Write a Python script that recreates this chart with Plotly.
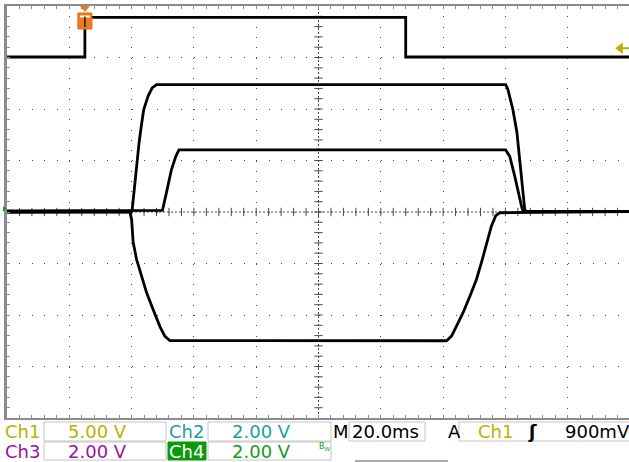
import plotly.graph_objects as go

TIME_PER_DIV_MS = 20.0
CH1_V_PER_DIV = 5.0
CH1_OFFSET_DIV = 3.0
CH234_V_PER_DIV = 2.0
TRIGGER_TIME_MS = 0.0
TRIGGER_LEVEL_V = 0.9

ch1_t = [-25, 0, 0, 103, 103, 175]
ch1_v = [0.05, 0.05, 3.9, 3.9, 0.05, 0.05]

ch2_t = [-25, 14.9, 15.2, 15.7, 16.4, 16.9, 17.4, 18.1, 18.9, 20.3, 21.6, 23.0,
         135.1, 135.8, 137.4, 138.7, 139.6, 140.6, 141.2, 141.9, 175]
ch2_v = [0.0, 0.0, 0.10, 0.75, 1.39, 2.04, 2.69, 3.33, 3.98, 4.50, 4.82, 4.95,
         4.95, 4.76, 3.98, 3.09, 2.04, 0.99, 0.10, 0.02, 0.02]

ch3_t = [-25, 24.9, 26.2, 27.8, 29.2, 30.2, 135.1, 136.4, 138.0, 139.4, 140.2, 140.7, 175]
ch3_v = [0.04, 0.06, 0.76, 1.65, 2.16, 2.41, 2.41, 2.16, 1.39, 0.60, 0.21, 0.02, 0.02]

ch4_t = [-25, 14.4, 15.0, 15.5, 16.6, 18.2, 19.8, 21.9, 24.1, 25.7, 27.3,
         116.1, 117.7, 119.3, 121.4, 123.6, 125.7, 127.3, 128.9, 130.5, 131.9, 133.2, 175]
ch4_v = [0.0, 0.02, -0.29, -1.18, -1.84, -2.50, -3.13, -3.79, -4.45, -4.83, -4.99,
         -5.0, -4.82, -4.43, -3.91, -3.27, -2.62, -1.97, -1.20, -0.55, -0.14, -0.03, 0.02]

row1_labels = ["Ch1", "5.00 V", "Ch2", "2.00 V", "M", "20.0ms", "A", "Ch1", "ʃ", "900mV"]
row2_labels = ["Ch3", "2.00 V", "Ch4", "2.00 V"]

# ---------------- layout geometry ----------------
W, H = 629, 462
L, T, B = 7, 6, 44
PW = W - L          # plot width in px
PH = H - T - B      # plot height in px
PX_PER_DIV = 62.3
X0 = -25.0
X1 = X0 + PW / PX_PER_DIV * TIME_PER_DIV_MS
XC = X0 + 5 * TIME_PER_DIV_MS

def px(x):
    return (x - L) / PW

def py(y):
    return (H - B - y) / PH

ch1_range = [(-4 - CH1_OFFSET_DIV) * CH1_V_PER_DIV, (4 - CH1_OFFSET_DIV) * CH1_V_PER_DIV]
ch_range = [-4 * CH234_V_PER_DIV, 4 * CH234_V_PER_DIV]

GRID = "#4a4a4a"
BORDER = "#8c8c8c"

fig = go.Figure()

# graticule: minor tick crosses on the centre lines
minor_x = [X0 + k * TIME_PER_DIV_MS / 5 for k in range(1, 50)]
minor_y = [ch_range[0] + k * CH234_V_PER_DIV / 5 for k in range(1, 40)]
fig.add_trace(go.Scatter(x=minor_x, y=[0] * len(minor_x), mode="markers", hoverinfo="skip",
                         marker=dict(symbol="line-ns", size=6, line=dict(color=GRID, width=1))))
fig.add_trace(go.Scatter(x=[XC] * len(minor_y), y=minor_y, mode="markers", hoverinfo="skip",
                         marker=dict(symbol="line-ew", size=6, line=dict(color=GRID, width=1))))

line = dict(color="black", width=2.8)
fig.add_trace(go.Scatter(x=ch1_t, y=ch1_v, mode="lines", line=line, yaxis="y2"))
fig.add_trace(go.Scatter(x=ch2_t, y=ch2_v, mode="lines", line=line))
fig.add_trace(go.Scatter(x=ch3_t, y=ch3_v, mode="lines", line=line))
fig.add_trace(go.Scatter(x=ch4_t, y=ch4_v, mode="lines", line=line))

# trigger level arrow (right edge)
fig.add_trace(go.Scatter(x=[X1 - 2.8], y=[TRIGGER_LEVEL_V], mode="markers", yaxis="y2",
                         marker=dict(symbol="triangle-left", size=10, color="#b4b400"),
                         cliponaxis=False))

fig.update_layout(
    width=W, height=H, autosize=False,
    margin=dict(l=L, r=0, t=T, b=B, pad=0, autoexpand=False),
    paper_bgcolor="white", plot_bgcolor="white",
    showlegend=False,
    xaxis=dict(range=[X0, X1], tickmode="linear", tick0=X0, dtick=TIME_PER_DIV_MS,
               showticklabels=False, zeroline=False, automargin=False,
               showgrid=True, gridcolor=GRID, gridwidth=1, griddash="1px,9.3px",
               showline=True, linecolor=BORDER, linewidth=2, mirror="ticks",
               ticks="inside", ticklen=3, tickcolor=BORDER,
               minor=dict(dtick=TIME_PER_DIV_MS / 5, tick0=X0, ticks="inside", ticklen=3,
                          tickcolor=BORDER, showgrid=False)),
    yaxis=dict(range=ch_range, tickmode="linear", tick0=ch_range[0], dtick=CH234_V_PER_DIV,
               showticklabels=False, zeroline=False, automargin=False,
               showgrid=True, gridcolor=GRID, gridwidth=1, griddash="1px,11.46px",
               showline=True, linecolor=BORDER, linewidth=3,
               ticks="inside", ticklen=3, tickcolor=BORDER,
               minor=dict(dtick=CH234_V_PER_DIV / 5, tick0=ch_range[0], ticks="inside", ticklen=3,
                          tickcolor=BORDER, showgrid=False)),
    yaxis2=dict(range=ch1_range, overlaying="y", visible=False, automargin=False),
)

shapes = []
# center cross lines (dotted)
shapes.append(dict(type="line", xref="x", yref="paper", x0=XC, x1=XC, y0=0, y1=1,
                   line=dict(color=GRID, width=1, dash="2px,2px"), layer="below"))
shapes.append(dict(type="line", xref="paper", yref="y", x0=0, x1=1, y0=0, y1=0,
                   line=dict(color=GRID, width=1, dash="2px,2px"), layer="below"))

# readout boxes
def box(x0, x1, y0, y1, fill="white", color="#c4c4c4"):
    shapes.append(dict(type="rect", xref="paper", yref="paper", x0=px(x0), x1=px(x1), y0=py(y1), y1=py(y0),
                       line=dict(color=color, width=1), fillcolor=fill, layer="above"))

box(44, 166, 422, 441)
box(208, 331, 422, 441)
box(349, 425, 422, 441)
box(459, 640, 422, 441)
box(44, 166, 442, 460)
box(208, 331, 442, 460)
box(168, 206, 442, 460, fill="#0b980b", color="#0b980b")
shapes.append(dict(type="line", xref="paper", yref="paper", x0=px(355), x1=px(448), y0=py(461), y1=py(461),
                   line=dict(color="#555555", width=1)))

# trigger position marker (orange) at top
tx = L + (TRIGGER_TIME_MS - X0) / TIME_PER_DIV_MS * PX_PER_DIV
shapes.append(dict(type="path", xref="paper", yref="paper",
                   path=f"M{px(tx-5)},{py(6)} L{px(tx+5)},{py(6)} L{px(tx)},{py(12)} Z",
                   fillcolor="#f07a1a", line=dict(width=0), layer="above"))
shapes.append(dict(type="rect", xref="paper", yref="paper", x0=px(tx - 7), x1=px(tx + 7), y0=py(29), y1=py(13),
                   fillcolor="#f07a1a", line=dict(color="#e86a10", width=1), layer="above"))
shapes.append(dict(type="line", xref="paper", yref="paper", x0=px(tx - 5), x1=px(tx + 5), y0=py(16.5), y1=py(16.5),
                   line=dict(color="white", width=2), layer="above"))
shapes.append(dict(type="line", xref="paper", yref="paper", x0=px(tx), x1=px(tx), y0=py(16.5), y1=py(27),
                   line=dict(color="#202020", width=1.5), layer="above"))
# trigger level tail line
shapes.append(dict(type="line", xref="paper", yref="y2", x0=px(622), x1=px(630), y0=TRIGGER_LEVEL_V,
                   y1=TRIGGER_LEVEL_V, line=dict(color="#b4b400", width=2), layer="above"))
# ground marker of ch4 at left edge
shapes.append(dict(type="path", xref="paper", yref="paper",
                   path=f"M{px(3)},{py(206)} L{px(7)},{py(209)} L{px(3)},{py(212)} Z",
                   fillcolor="#2a9a2a", line=dict(width=0), layer="above"))
fig.update_layout(shapes=shapes)

FONT = "DejaVu Sans"
YEL, TEAL, MAG, GRN = "#b4b400", "#1e9e9e", "#a010a0", "#1a9a1a"
row1_x = [3, 66, 167, 230, 331, 350, 446, 476, 526, 563]
row1_c = [YEL, YEL, TEAL, TEAL, "black", "black", "black", YEL, "black", "black"]
row2_x = [3, 66, 167, 230]
row2_c = [MAG, MAG, "white", GRN]
HS = "\u200a"

ann = []
for txt, x, c in zip(row1_labels, row1_x, row1_c):
    bold = txt == "ʃ"
    ann.append(dict(text=txt, x=px(x), y=py(431.5), xref="paper", yref="paper", xanchor="left", yanchor="middle",
                    showarrow=False, font=dict(family=FONT, size=18, color=c, weight=700 if bold else 400)))
for txt, x, c in zip(row2_labels, row2_x, row2_c):
    ann.append(dict(text=txt, x=px(x), y=py(451.5), xref="paper", yref="paper", xanchor="left", yanchor="middle",
                    showarrow=False, font=dict(family=FONT, size=18, color=c)))
ann.append(dict(text="B<sub>W</sub>", x=px(317), y=py(447), xref="paper", yref="paper", xanchor="left",
                yanchor="middle", showarrow=False, font=dict(family=FONT, size=8, color=GRN)))
fig.update_layout(annotations=ann)

fig.write_html("out.html", config={"displayModeBar": False},
               post_script="document.body.style.margin='0';document.body.style.overflow='hidden';")
